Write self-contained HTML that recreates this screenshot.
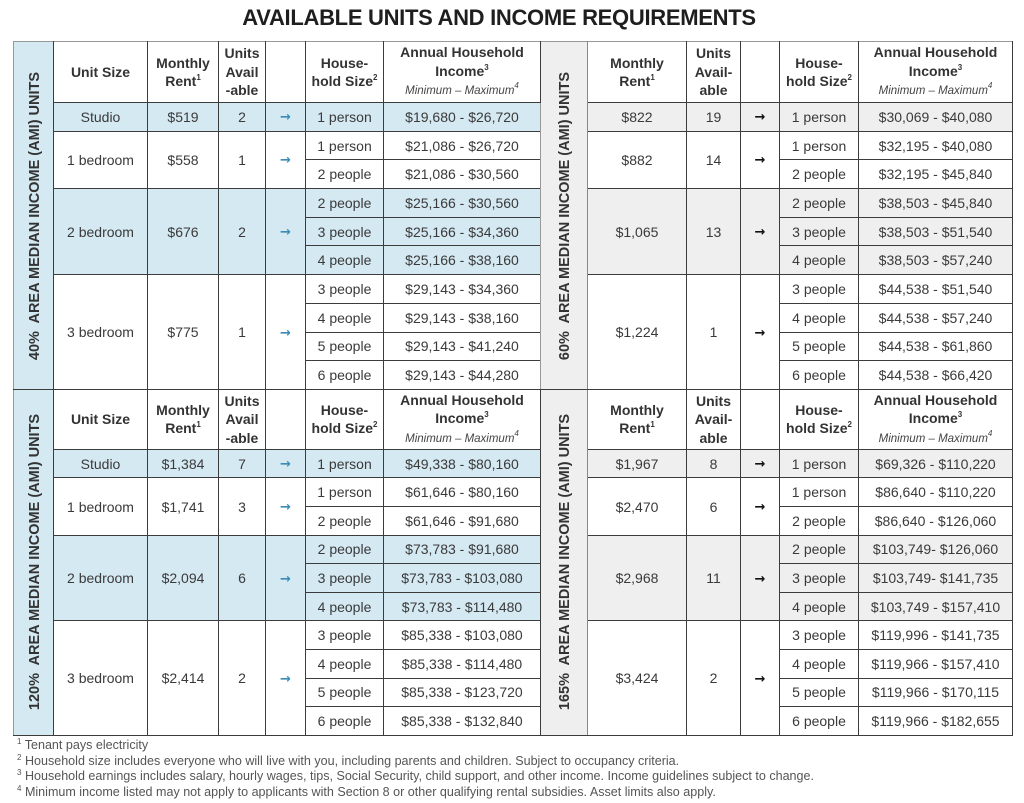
<!DOCTYPE html>
<html>
<head>
<meta charset="utf-8">
<style>
  html,body{margin:0;padding:0;background:#fff;}
  body{width:1024px;height:803px;position:relative;overflow:hidden;font-family:"Liberation Sans",Arial,sans-serif;color:#3a3a3a;}
  .title{position:absolute;left:0;width:998px;top:7px;text-align:center;font-size:22px;line-height:22px;font-weight:bold;color:#1e1e1e;letter-spacing:-0.3px;}
  table{position:absolute;left:13px;top:41px;width:999px;table-layout:fixed;border-collapse:collapse;}
  td,th{border:1px solid #3c3c3c;padding:0;text-align:center;vertical-align:middle;font-size:14px;line-height:16px;white-space:nowrap;overflow:hidden;}
  th{font-weight:bold;color:#333;line-height:18.5px;border-top-color:#999;background:#fff;}
  th i{font-weight:normal;font-size:11.5px;color:#444;}
  sup{font-size:8px;line-height:0;vertical-align:6px;}
  tr.h1{height:61px;}
  tr.h2{height:60px;}
  tr.r1{height:28.7px;}
  tr.r2{height:28.6px;}
  .b{background:#d5e9f2;}
  .g{background:#efefef;}
  .lab{border-left-color:#999;border-top-color:#999;}
  .labr{border-right-color:#888;}
  .a1{color:#3a8cb6;font-family:"DejaVu Sans",sans-serif;font-size:13px;font-weight:bold;padding-top:3px;}
  .a2{color:#111;font-family:"DejaVu Sans",sans-serif;font-size:13px;font-weight:bold;border-left-color:#aaa;padding-top:3px;}
  .th2{border-left-color:#aaa;}
  .vlab{position:absolute;white-space:pre;font-size:14.5px;line-height:14.5px;font-weight:bold;color:#333;transform:translate(-50%,-50%) rotate(-90deg);}
  .foot{position:absolute;left:17px;top:738px;font-size:12.55px;line-height:15.5px;color:#555;white-space:nowrap;}
  .foot sup{font-size:8px;vertical-align:5px;}
</style>
</head>
<body>
<div class="title">AVAILABLE UNITS AND INCOME REQUIREMENTS</div>

<table>
<colgroup>
<col style="width:40px"><col style="width:94px"><col style="width:71px"><col style="width:47px"><col style="width:40px"><col style="width:78px"><col style="width:157px">
<col style="width:47px"><col style="width:99px"><col style="width:54px"><col style="width:39px"><col style="width:79px"><col style="width:154px">
</colgroup>

<tr class="h1">
<td rowspan="11" class="lab b"></td>
<th>Unit Size</th>
<th>Monthly<br>Rent<sup>1</sup></th>
<th>Units<br>Avail<br>-able</th>
<th></th>
<th>House-<br>hold Size<sup>2</sup></th>
<th>Annual Household<br>Income<sup>3</sup><br><i>Minimum – Maximum<sup>4</sup></i></th>
<td rowspan="11" class="lab g labr"></td>
<th>Monthly<br>Rent<sup>1</sup></th>
<th>Units<br>Avail-<br>able</th>
<th class="th2"></th>
<th>House-<br>hold Size<sup>2</sup></th>
<th>Annual Household<br>Income<sup>3</sup><br><i>Minimum – Maximum<sup>4</sup></i></th>
</tr>
<tr class="r1">
<td class="b">Studio</td><td class="b">$519</td><td class="b">2</td><td class="b a1">→</td><td class="b">1 person</td><td class="b">$19,680 - $26,720</td>
<td class="g">$822</td><td class="g">19</td><td class="g a2">→</td><td class="g">1 person</td><td class="g">$30,069 - $40,080</td>
</tr>
<tr class="r1">
<td rowspan="2">1 bedroom</td><td rowspan="2">$558</td><td rowspan="2">1</td><td rowspan="2" class="a1">→</td><td>1 person</td><td>$21,086 - $26,720</td>
<td rowspan="2">$882</td><td rowspan="2">14</td><td rowspan="2" class="a2">→</td><td>1 person</td><td>$32,195 - $40,080</td>
</tr>
<tr class="r1">
<td>2 people</td><td>$21,086 - $30,560</td>
<td>2 people</td><td>$32,195 - $45,840</td>
</tr>
<tr class="r1">
<td rowspan="3" class="b">2 bedroom</td><td rowspan="3" class="b">$676</td><td rowspan="3" class="b">2</td><td rowspan="3" class="b a1">→</td><td class="b">2 people</td><td class="b">$25,166 - $30,560</td>
<td rowspan="3" class="g">$1,065</td><td rowspan="3" class="g">13</td><td rowspan="3" class="g a2">→</td><td class="g">2 people</td><td class="g">$38,503 - $45,840</td>
</tr>
<tr class="r1">
<td class="b">3 people</td><td class="b">$25,166 - $34,360</td>
<td class="g">3 people</td><td class="g">$38,503 - $51,540</td>
</tr>
<tr class="r1">
<td class="b">4 people</td><td class="b">$25,166 - $38,160</td>
<td class="g">4 people</td><td class="g">$38,503 - $57,240</td>
</tr>
<tr class="r1">
<td rowspan="4">3 bedroom</td><td rowspan="4">$775</td><td rowspan="4">1</td><td rowspan="4" class="a1">→</td><td>3 people</td><td>$29,143 - $34,360</td>
<td rowspan="4">$1,224</td><td rowspan="4">1</td><td rowspan="4" class="a2">→</td><td>3 people</td><td>$44,538 - $51,540</td>
</tr>
<tr class="r1">
<td>4 people</td><td>$29,143 - $38,160</td>
<td>4 people</td><td>$44,538 - $57,240</td>
</tr>
<tr class="r1">
<td>5 people</td><td>$29,143 - $41,240</td>
<td>5 people</td><td>$44,538 - $61,860</td>
</tr>
<tr class="r1">
<td>6 people</td><td>$29,143 - $44,280</td>
<td>6 people</td><td>$44,538 - $66,420</td>
</tr>

<tr class="h2">
<td rowspan="11" class="b" style="border-left-color:#999"></td>
<th style="border-top-color:#3c3c3c">Unit Size</th>
<th style="border-top-color:#3c3c3c">Monthly<br>Rent<sup>1</sup></th>
<th style="border-top-color:#3c3c3c">Units<br>Avail<br>-able</th>
<th style="border-top-color:#3c3c3c"></th>
<th style="border-top-color:#3c3c3c">House-<br>hold Size<sup>2</sup></th>
<th style="border-top-color:#3c3c3c">Annual Household<br>Income<sup>3</sup><br><i>Minimum – Maximum<sup>4</sup></i></th>
<td rowspan="11" class="g labr"></td>
<th style="border-top-color:#3c3c3c">Monthly<br>Rent<sup>1</sup></th>
<th style="border-top-color:#3c3c3c">Units<br>Avail-<br>able</th>
<th class="th2" style="border-top-color:#3c3c3c"></th>
<th style="border-top-color:#3c3c3c">House-<br>hold Size<sup>2</sup></th>
<th style="border-top-color:#3c3c3c">Annual Household<br>Income<sup>3</sup><br><i>Minimum – Maximum<sup>4</sup></i></th>
</tr>
<tr class="r2">
<td class="b">Studio</td><td class="b">$1,384</td><td class="b">7</td><td class="b a1">→</td><td class="b">1 person</td><td class="b">$49,338 - $80,160</td>
<td class="g">$1,967</td><td class="g">8</td><td class="g a2">→</td><td class="g">1 person</td><td class="g">$69,326 - $110,220</td>
</tr>
<tr class="r2">
<td rowspan="2">1 bedroom</td><td rowspan="2">$1,741</td><td rowspan="2">3</td><td rowspan="2" class="a1">→</td><td>1 person</td><td>$61,646 - $80,160</td>
<td rowspan="2">$2,470</td><td rowspan="2">6</td><td rowspan="2" class="a2">→</td><td>1 person</td><td>$86,640 - $110,220</td>
</tr>
<tr class="r2">
<td>2 people</td><td>$61,646 - $91,680</td>
<td>2 people</td><td>$86,640 - $126,060</td>
</tr>
<tr class="r2">
<td rowspan="3" class="b">2 bedroom</td><td rowspan="3" class="b">$2,094</td><td rowspan="3" class="b">6</td><td rowspan="3" class="b a1">→</td><td class="b">2 people</td><td class="b">$73,783 - $91,680</td>
<td rowspan="3" class="g">$2,968</td><td rowspan="3" class="g">11</td><td rowspan="3" class="g a2">→</td><td class="g">2 people</td><td class="g">$103,749- $126,060</td>
</tr>
<tr class="r2">
<td class="b">3 people</td><td class="b">$73,783 - $103,080</td>
<td class="g">3 people</td><td class="g">$103,749- $141,735</td>
</tr>
<tr class="r2">
<td class="b">4 people</td><td class="b">$73,783 - $114,480</td>
<td class="g">4 people</td><td class="g">$103,749 - $157,410</td>
</tr>
<tr class="r2">
<td rowspan="4">3 bedroom</td><td rowspan="4">$2,414</td><td rowspan="4">2</td><td rowspan="4" class="a1">→</td><td>3 people</td><td>$85,338 - $103,080</td>
<td rowspan="4">$3,424</td><td rowspan="4">2</td><td rowspan="4" class="a2">→</td><td>3 people</td><td>$119,996 - $141,735</td>
</tr>
<tr class="r2">
<td>4 people</td><td>$85,338 - $114,480</td>
<td>4 people</td><td>$119,966 - $157,410</td>
</tr>
<tr class="r2">
<td>5 people</td><td>$85,338 - $123,720</td>
<td>5 people</td><td>$119,966 - $170,115</td>
</tr>
<tr class="r2">
<td>6 people</td><td>$85,338 - $132,840</td>
<td>6 people</td><td>$119,966 - $182,655</td>
</tr>
</table>

<div class="vlab" style="left:34.5px;top:216px;">40%  AREA MEDIAN INCOME (AMI) UNITS</div>
<div class="vlab" style="left:565px;top:216px;">60%  AREA MEDIAN INCOME (AMI) UNITS</div>
<div class="vlab" style="left:34.5px;top:562px;">120%  AREA MEDIAN INCOME (AMI) UNITS</div>
<div class="vlab" style="left:565px;top:562px;">165%  AREA MEDIAN INCOME (AMI) UNITS</div>

<div class="foot">
<div><sup>1</sup> Tenant pays electricity</div>
<div><sup>2</sup> Household size includes everyone who will live with you, including parents and children. Subject to occupancy criteria.</div>
<div><sup>3</sup> Household earnings includes salary, hourly wages, tips, Social Security, child support, and other income. Income guidelines subject to change.</div>
<div><sup>4</sup> Minimum income listed may not apply to applicants with Section 8 or other qualifying rental subsidies. Asset limits also apply.</div>
</div>
</body>
</html>
